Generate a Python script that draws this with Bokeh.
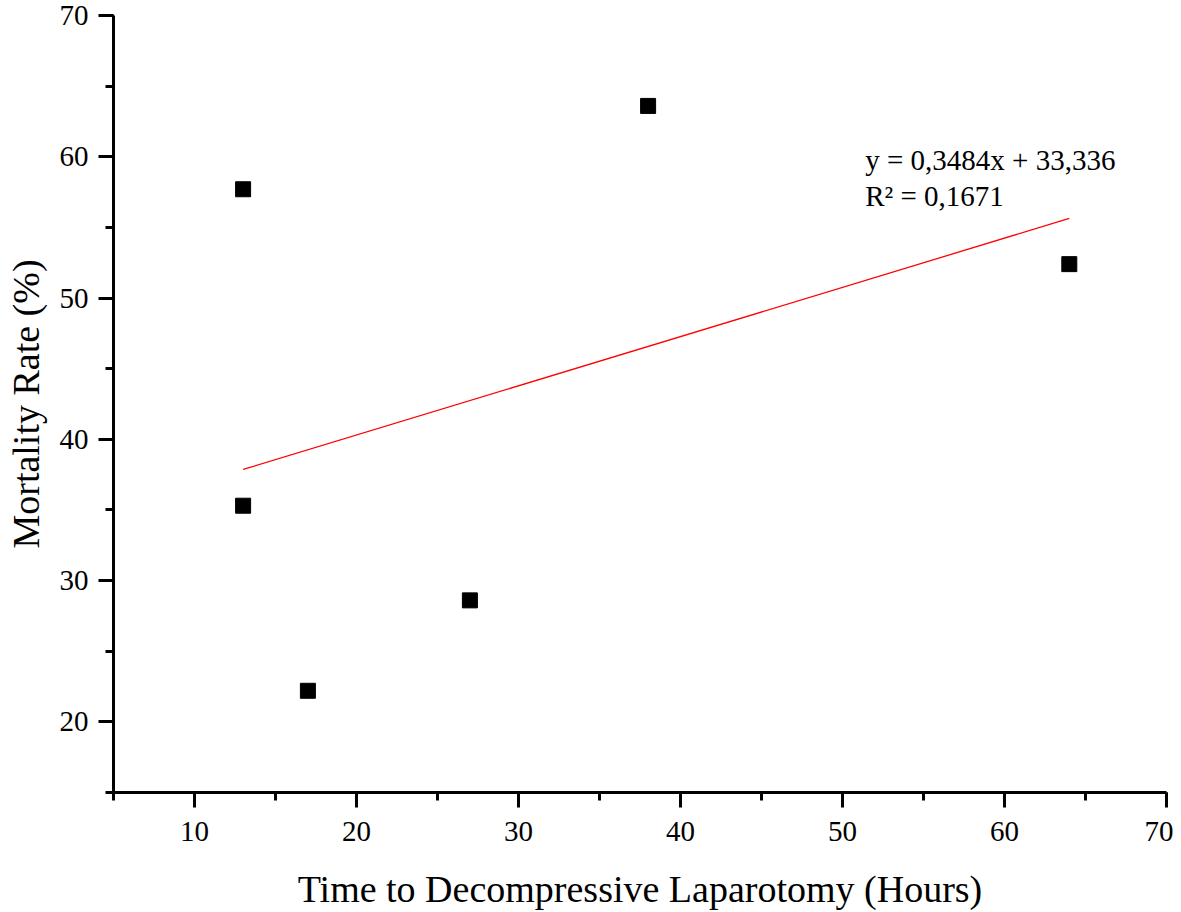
from bokeh.plotting import figure
from bokeh.models import Range1d, SingleIntervalTicker, Label
from bokeh.embed import file_html
from bokeh.resources import INLINE

# Data
hours = [13, 13, 17, 27, 38, 64]
mortality = [57.7, 35.3, 22.2, 28.6, 63.6, 52.4]
slope = 0.3484
intercept = 33.336
fit_x = [min(hours), max(hours)]
fit_y = [slope * v + intercept for v in fit_x]
eq_lines = ["y = 0,3484x + 33,336", "R\u00b2 = 0,1671"]
x_label = "Time to Decompressive Laparotomy (Hours)"
y_label = "Mortality Rate (%)"

FONT = "Liberation Serif"

p = figure(output_backend="svg", toolbar_location=None,
           frame_width=1053, frame_height=777,
           min_border_left=113, min_border_right=7,
           min_border_top=15, min_border_bottom=112,
           x_range=Range1d(5, 70), y_range=Range1d(15, 70),
           x_axis_label=x_label, y_axis_label=y_label)
p.width = 1173
p.height = 904
p.outline_line_color = None
p.grid.visible = False
p.background_fill_color = "white"
p.border_fill_color = "white"

for ax in (p.xaxis[0], p.yaxis[0]):
    ax.ticker = SingleIntervalTicker(interval=10, num_minor_ticks=2)
    ax.axis_line_width = 3
    ax.axis_line_color = "black"
    ax.major_tick_line_width = 3
    ax.minor_tick_line_width = 3
    ax.major_tick_out = 15
    ax.major_tick_in = 0
    ax.minor_tick_out = 8
    ax.minor_tick_in = 0
    ax.major_label_text_font = FONT
    ax.major_label_text_font_size = "29px"
    ax.major_label_text_color = "black"
    ax.axis_label_text_font = FONT
    ax.axis_label_text_font_size = "38px"
    ax.axis_label_text_font_style = "normal"
    ax.axis_label_text_color = "black"

p.xaxis.major_label_standoff = 14
p.xaxis.axis_label_standoff = 24
p.yaxis.major_label_standoff = 10
p.yaxis.axis_label_standoff = 10

p.line(fit_x, fit_y, line_color="red", line_width=1.3)
p.scatter(hours, mortality, marker="square", size=15,
          fill_color="black", line_color="black")

for i, t in enumerate(eq_lines):
    p.add_layout(Label(x=51.4, y=59.77 - i * 2.54, text=t,
                       text_font=FONT, text_font_size="29px",
                       text_color="black", text_baseline="alphabetic"))

open("out.html", "w").write(file_html(p, INLINE))
